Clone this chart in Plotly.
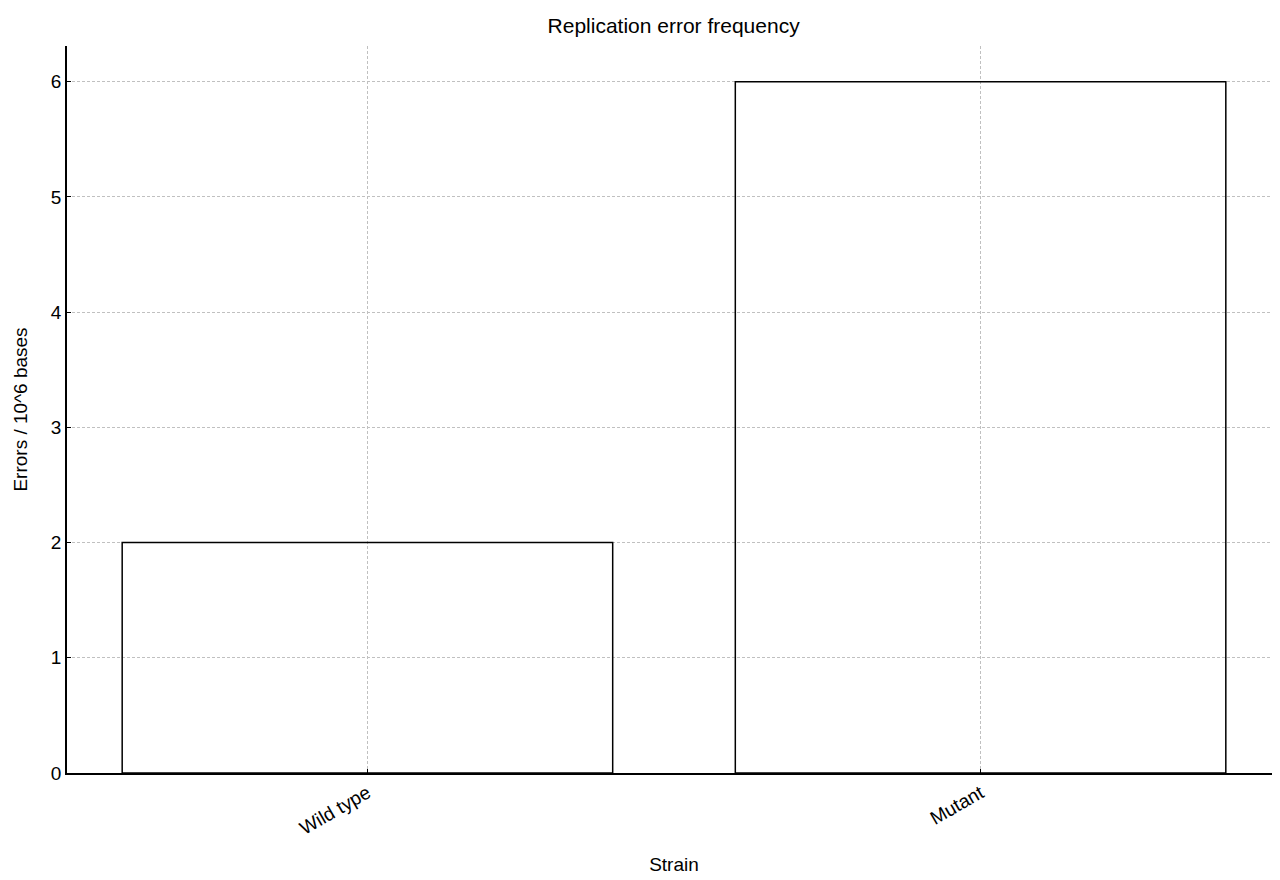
import plotly.graph_objects as go

strains = ["Wild type", "Mutant"]
errors = [2, 6]

fig = go.Figure(go.Bar(
    x=strains, y=errors, width=0.8,
    marker=dict(color="rgba(0,0,0,0)", line=dict(color="black", width=1.5)),
))

fig.update_layout(
    width=1280, height=880,
    margin=dict(l=59, r=7, t=38, b=115),
    plot_bgcolor="white", paper_bgcolor="white",
    font=dict(family="Liberation Sans, Arial, sans-serif", color="black", size=18),
    title=dict(text="Replication error frequency", x=0.52, xanchor="center",
               y=0.98, yanchor="middle", font=dict(size=21)),
    showlegend=False,
)
for ax in (fig.layout.xaxis, fig.layout.yaxis):
    ax.update(showline=True, linecolor="black", linewidth=1.5,
              showgrid=True, gridcolor="#c0c0c0", griddash="3px,2px", gridwidth=1,
              ticks="inside", ticklen=4, tickcolor="black",
              tickfont=dict(size=19, color="black"), zeroline=False, automargin=False)

fig.update_xaxes(range=[-0.49, 1.49], tickangle=-30,
                 title=dict(text="Strain", font=dict(size=19), standoff=20))
fig.update_yaxes(range=[0, 6.31], dtick=1,
                 title=dict(text="Errors / 10^6 bases", font=dict(size=19), standoff=18))

fig.write_html("out.html")
